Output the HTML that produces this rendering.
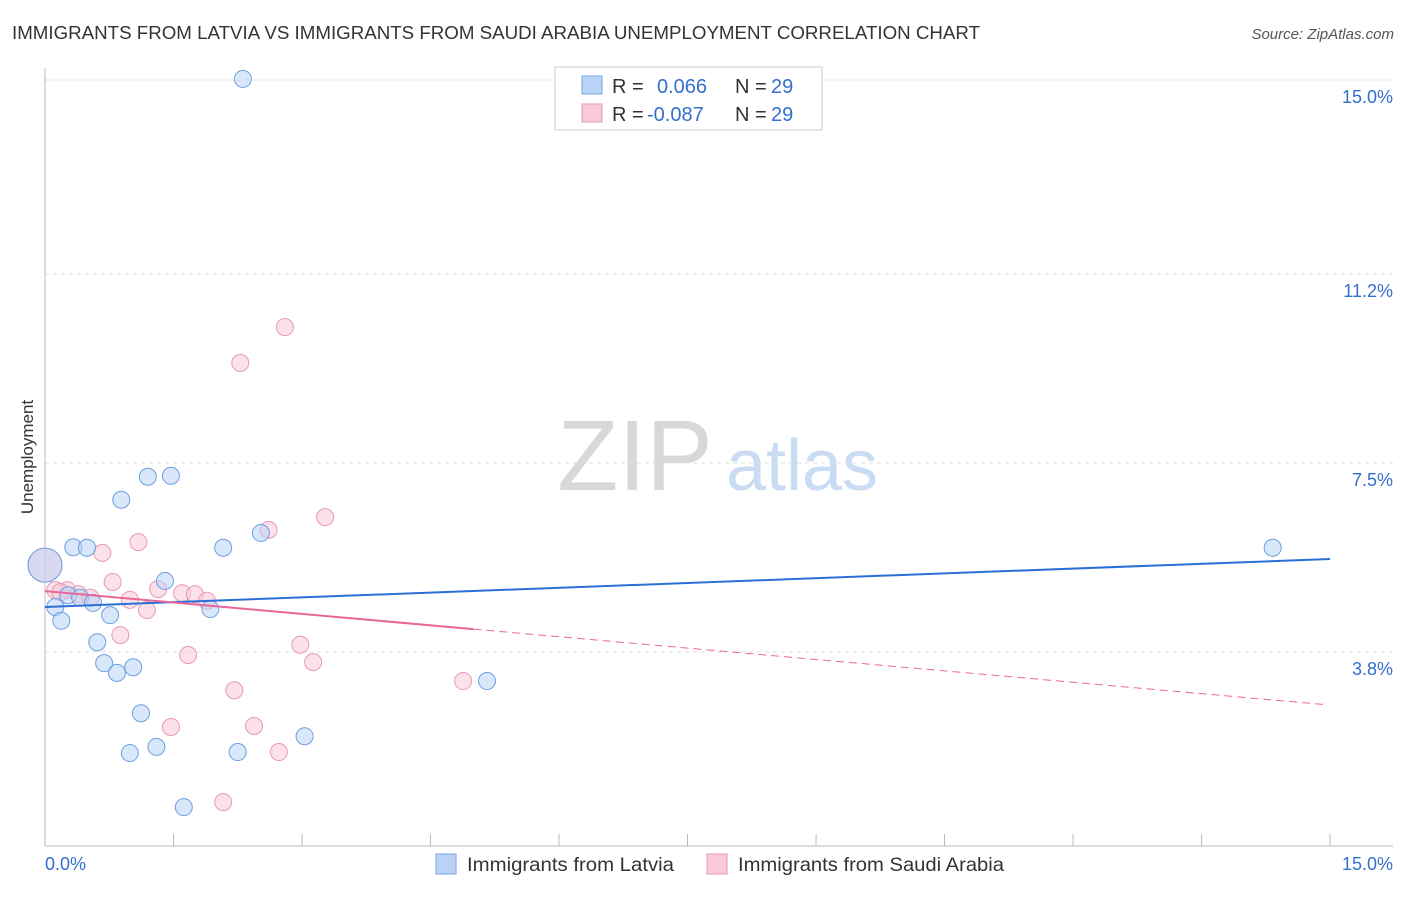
<!DOCTYPE html>
<html><head><meta charset="utf-8">
<style>
body{margin:0;background:#fff;font-family:"Liberation Sans",sans-serif;}
svg text{font-family:"Liberation Sans",sans-serif;}
</style></head>
<body>
<svg id="chart" width="1406" height="892" xmlns="http://www.w3.org/2000/svg">
<text x="12" y="39" font-size="18" fill="#333" textLength="968" lengthAdjust="spacingAndGlyphs">IMMIGRANTS FROM LATVIA VS IMMIGRANTS FROM SAUDI ARABIA UNEMPLOYMENT CORRELATION CHART</text>
<text x="1394" y="39" font-size="15" fill="#555" text-anchor="end" font-style="italic">Source: ZipAtlas.com</text>
<g>
<text x="635" y="490" font-size="100" fill="#d8d8d8" text-anchor="middle" font-family="Liberation Serif">ZIP</text>
<text x="802" y="490" font-size="72" fill="#c9dcf3" text-anchor="middle">atlas</text>
</g>
<text transform="translate(33,457) rotate(-90)" font-size="17" fill="#333" text-anchor="middle">Unemployment</text>
<g id="grid"></g>
<g id="axes"></g>
<g id="marks"></g>
<g>
<rect x="555" y="67" width="267" height="63" fill="#fff" stroke="#ccc"/>
<rect x="582" y="76" width="20" height="18" fill="#b9d3f5" stroke="#7aa6e0"/>
<text x="612" y="93" font-size="20" fill="#333">R = </text><text x="657" y="93" font-size="20" fill="#3370cc">0.066</text>
<text x="735" y="93" font-size="20" fill="#333">N = </text><text x="771" y="93" font-size="20" fill="#3370cc">29</text>
<rect x="582" y="104" width="20" height="18" fill="#f9c9d8" stroke="#e89ab3"/>
<text x="612" y="121" font-size="20" fill="#333">R = </text><text x="647" y="121" font-size="20" fill="#3370cc">-0.087</text>
<text x="735" y="121" font-size="20" fill="#333">N = </text><text x="771" y="121" font-size="20" fill="#3370cc">29</text>
</g>
<g>
<rect x="436" y="854" width="20" height="20" fill="#b9d3f5" stroke="#7aa6e0"/>
<text x="467" y="871" font-size="19.5" fill="#333" textLength="207" lengthAdjust="spacingAndGlyphs">Immigrants from Latvia</text>
<rect x="707" y="854" width="20" height="20" fill="#f9c9d8" stroke="#e89ab3"/>
<text x="738" y="871" font-size="19.5" fill="#333" textLength="266" lengthAdjust="spacingAndGlyphs">Immigrants from Saudi Arabia</text>
</g>
</svg>
<script>
const yTicks=[15.0,11.2,7.5,3.8];
const yTickLabels=["15.0%","11.2%","7.5%","3.8%"];
const xTickLabels=["0.0%","15.0%"];
const latviaX=[2.31,1.20,1.47,0.89,0.33,0.49,2.08,2.52,1.40,0.27,0.41,0.56,0.12,0.76,1.93,0.19,0.61,0.69,1.03,0.84,1.12,1.30,0.99,2.25,3.03,1.62,5.16,14.33,0.0];
const latviaY=[15.02,7.23,7.25,6.78,5.85,5.84,5.84,6.13,5.19,4.91,4.86,4.76,4.68,4.52,4.64,4.41,3.99,3.58,3.50,3.39,2.60,1.94,1.82,1.84,2.15,0.76,3.23,5.84,5.50];
const saudiX=[2.80,2.28,3.27,2.61,1.09,0.67,0.79,0.26,1.32,0.39,0.53,0.99,1.60,1.75,1.89,1.19,0.88,1.67,2.98,3.13,2.21,4.88,1.47,2.44,2.73,2.08,0.0,0.12,0.18];
const saudiY=[10.16,9.46,6.44,6.19,5.95,5.74,5.17,5.01,5.03,4.93,4.86,4.82,4.95,4.93,4.80,4.62,4.13,3.74,3.94,3.60,3.05,3.23,2.33,2.35,1.84,0.86,5.50,5.01,4.97];
const latviaTrend=[4.68,5.62];
const saudiTrend=[4.99,2.76];
const saudiSolidEnd=5.0;

const X=v=>45+v*85.67, Y=v=>846-v*51.07;
const NS="http://www.w3.org/2000/svg";
function mk(tag,attrs,parent){const e=document.createElementNS(NS,tag);for(const k in attrs)e.setAttribute(k,attrs[k]);parent.appendChild(e);return e;}
const grid=document.getElementById('grid'),axes=document.getElementById('axes'),marks=document.getElementById('marks');
yTicks.forEach((t,i)=>{
 const l=mk('line',{x1:45,x2:1393,y1:Y(t),y2:Y(t),stroke:'#ddd','stroke-dasharray':'4,4'},grid);
 
 
 const tx=mk('text',{x:1393,y:Y(t)+23,'font-size':18,fill:'#3370cc','text-anchor':'end'},axes);
 tx.textContent=yTickLabels[i];
 
 
});
const ya=mk('line',{x1:45,x2:45,y1:68,y2:846,stroke:'#bbb'},axes);


const xa=mk('line',{x1:45,x2:1393,y1:846,y2:846,stroke:'#bbb'},axes);


for(let i=0;i<=10;i++){const t=mk('line',{x1:X(i*1.5),x2:X(i*1.5),y1:834,y2:846,stroke:'#bbb'},axes);
 
 }
[[0,'start',45],[15,'end',1393]].forEach((d,i)=>{const t=mk('text',{x:d[2],y:870,'font-size':18,fill:'#3370cc','text-anchor':d[1]},axes);t.textContent=xTickLabels[i];
 
 });
function pts(xs,ys,fill,stroke,name){xs.forEach((x,i)=>{const big=(x===0&&ys[i]===5.5);
 const c=mk('circle',{cx:X(x),cy:Y(ys[i]),r:big?17:8.5,fill:fill,'fill-opacity':0.55,stroke:stroke,'stroke-width':1},marks);
 
 });}
pts(saudiX,saudiY,'#f9c9d8','#e89ab3','saudi-point');
pts(latviaX,latviaY,'#b9d3f5','#6d9fe0','latvia-point');
const lt=mk('line',{x1:X(0),y1:Y(latviaTrend[0]),x2:X(15),y2:Y(latviaTrend[1]),stroke:'#2a6fd6','stroke-width':2},marks);


const sv=x=>saudiTrend[0]+(saudiTrend[1]-saudiTrend[0])*x/15;
const st=mk('line',{x1:X(0),y1:Y(sv(0)),x2:X(saudiSolidEnd),y2:Y(sv(saudiSolidEnd)),stroke:'#e8679a','stroke-width':2},marks);


const sd=mk('line',{x1:X(saudiSolidEnd),y1:Y(sv(saudiSolidEnd)),x2:X(14.95),y2:Y(sv(14.95)),stroke:'#e8679a','stroke-width':1,'stroke-dasharray':'8,5'},marks);


</script>
</body></html>
